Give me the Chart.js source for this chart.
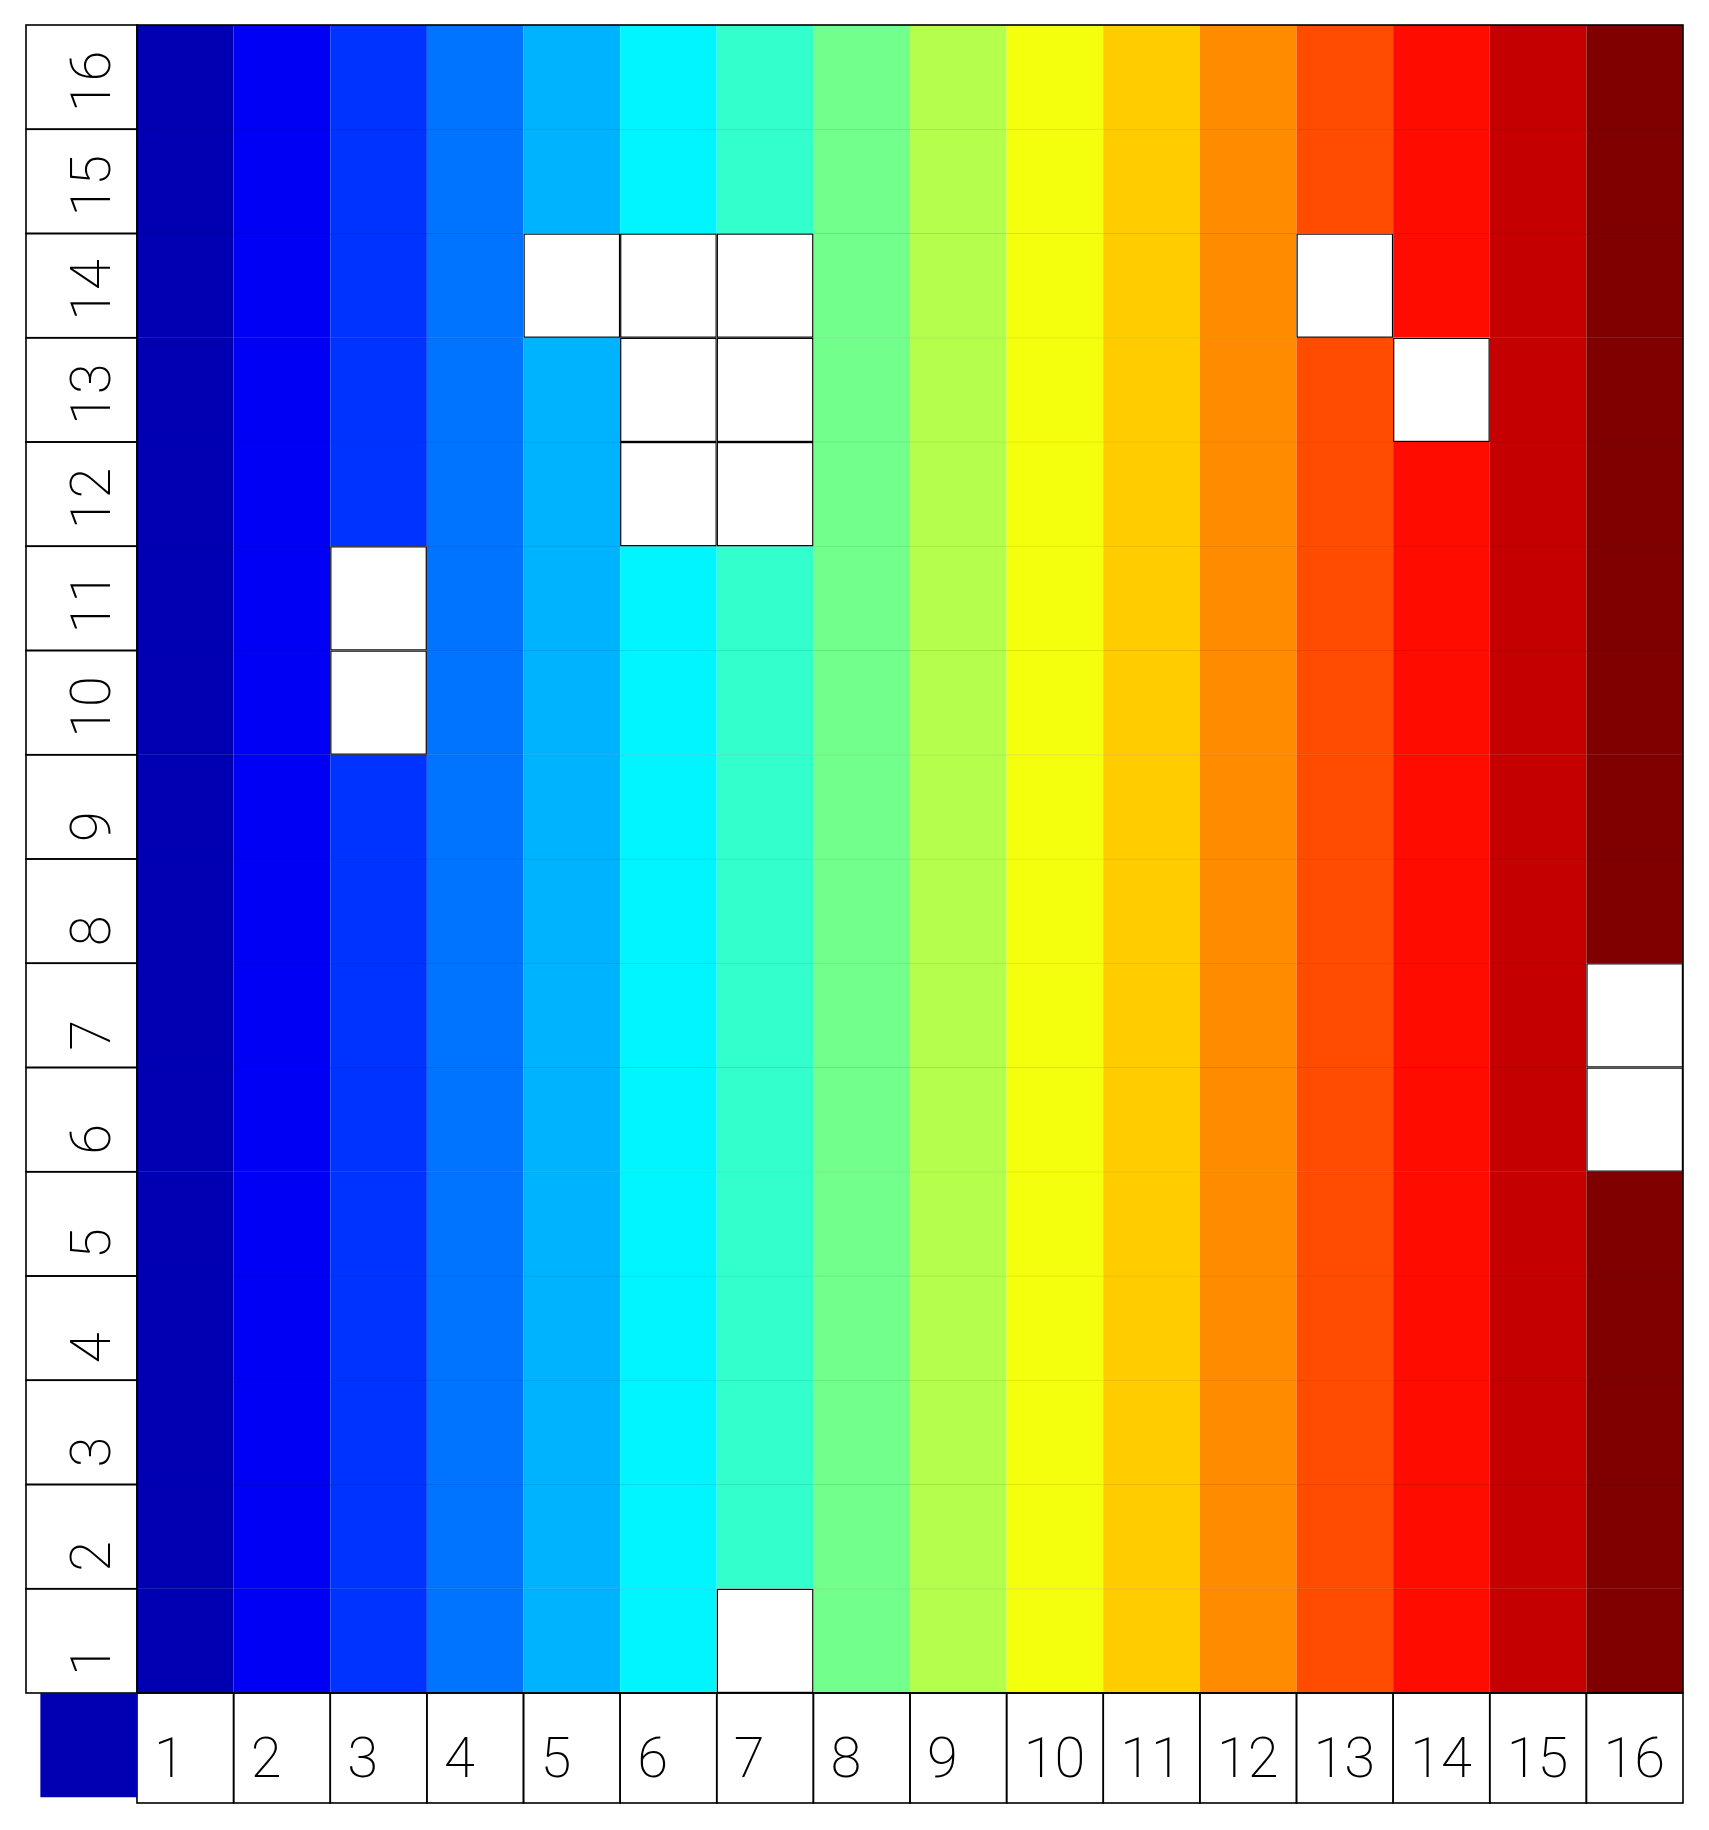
<!DOCTYPE html>
<html>
<head>
<meta charset="utf-8">
<script src="https://cdn.jsdelivr.net/npm/chart.js@4.4.1/dist/chart.umd.min.js"></script>
<style>
  html, body { margin: 0; padding: 0; background: #fff; }
  canvas { display: block; }
</style>
</head>
<body>
<canvas id="grid" width="1709" height="1830"></canvas>
<script>
// column / row labels
const colLabels = ['1','2','3','4','5','6','7','8','9','10','11','12','13','14','15','16'];
const rowLabels = ['1','2','3','4','5','6','7','8','9','10','11','12','13','14','15','16'];

// cell values, row 1 (bottom) first; null = empty cell
const cellValues = [
  [1,2,3,4,5,6,null,8,9,10,11,12,13,14,15,16],
  [1,2,3,4,5,6,7,8,9,10,11,12,13,14,15,16],
  [1,2,3,4,5,6,7,8,9,10,11,12,13,14,15,16],
  [1,2,3,4,5,6,7,8,9,10,11,12,13,14,15,16],
  [1,2,3,4,5,6,7,8,9,10,11,12,13,14,15,16],
  [1,2,3,4,5,6,7,8,9,10,11,12,13,14,15,null],
  [1,2,3,4,5,6,7,8,9,10,11,12,13,14,15,null],
  [1,2,3,4,5,6,7,8,9,10,11,12,13,14,15,16],
  [1,2,3,4,5,6,7,8,9,10,11,12,13,14,15,16],
  [1,2,null,4,5,6,7,8,9,10,11,12,13,14,15,16],
  [1,2,null,4,5,6,7,8,9,10,11,12,13,14,15,16],
  [1,2,3,4,5,null,null,8,9,10,11,12,13,14,15,16],
  [1,2,3,4,5,null,null,8,9,10,11,12,13,null,15,16],
  [1,2,3,4,null,null,null,8,9,10,11,12,null,14,15,16],
  [1,2,3,4,5,6,7,8,9,10,11,12,13,14,15,16],
  [1,2,3,4,5,6,7,8,9,10,11,12,13,14,15,16]
];

// jet-like colour per value 1..16
const jetColors = [
  '#0000b3','#0000f5','#0033ff','#0073ff','#00b3ff','#00f5ff','#33ffcc','#73ff8c',
  '#b3ff4c','#f3ff0c','#ffcc00','#ff8c00','#ff4c00','#ff0c00','#c40000','#800000'
];

const labelFont = '200 56px Roboto, "Liberation Sans", sans-serif';

function darken(hex, f) {
  const n = parseInt(hex.slice(1), 16);
  const r = Math.round(((n >> 16) & 255) * f);
  const g = Math.round(((n >> 8) & 255) * f);
  const b = Math.round((n & 255) * f);
  return 'rgb(' + r + ',' + g + ',' + b + ')';
}

const datasets = rowLabels.map((lab, ri) => {
  const row = cellValues[ri];
  return {
    label: 'row ' + lab,
    data: row.map(() => [ri, ri + 1]),
    backgroundColor: row.map(v => v == null ? '#ffffff' : jetColors[v - 1]),
    borderColor: row.map(v => v == null ? '#ffffff' : darken(jetColors[v - 1], 0.9)),
    borderWidth: row.map(v => v == null ? 0 : { top: 1, bottom: 0, left: 0, right: 0 }),
    inflateAmount: row.map(v => v == null ? 0 : 0.6),
    borderSkipped: false,
    barPercentage: 1,
    categoryPercentage: 1,
    grouped: false
  };
});

// outlines of the empty cells, on top of the bars
const emptyCellPlugin = {
  id: 'emptyCells',
  afterDatasetsDraw(chart) {
    const { ctx, chartArea: a, scales: { x, y } } = chart;
    const colW = (a.right - a.left) / colLabels.length;
    ctx.save();
    ctx.strokeStyle = '#000';
    ctx.lineWidth = 1.2;
    cellValues.forEach((row, i) => {
      row.forEach((v, j) => {
        if (v != null) return;
        const left = x.getPixelForValue(j) - colW / 2;
        const top = y.getPixelForValue(i + 1);
        const bot = y.getPixelForValue(i);
        ctx.fillStyle = '#fff';
        ctx.fillRect(left, top, colW, bot - top);
        ctx.strokeRect(left + 0.6, top + 0.6, colW - 1.2, bot - top - 1.2);
      });
    });
    ctx.restore();
  }
};

// label boxes, corner swatch and outer frame
const framePlugin = {
  id: 'frame',
  afterDraw(chart) {
    const { ctx, chartArea: a, scales: { x, y } } = chart;
    const colW = (a.right - a.left) / colLabels.length;
    const rowH = (a.bottom - a.top) / rowLabels.length;
    ctx.save();
    ctx.strokeStyle = '#000';
    ctx.lineWidth = 1.6;
    ctx.fillStyle = '#000';
    ctx.font = labelFont;
    ctx.textAlign = 'left';
    ctx.textBaseline = 'alphabetic';

    rowLabels.forEach((lab, i) => {
      const top = y.getPixelForValue(i + 1);
      const bot = y.getPixelForValue(i);
      ctx.strokeRect(y.left, top, a.left - y.left, bot - top);
      ctx.save();
      ctx.translate(a.left - 27, bot - 17);
      ctx.rotate(-Math.PI / 2);
      ctx.fillText(lab, 0, 0);
      ctx.restore();
    });

    colLabels.forEach((lab, j) => {
      const left = x.getPixelForValue(j) - colW / 2;
      ctx.strokeRect(left, a.bottom, colW, x.bottom - a.bottom);
      ctx.fillText(lab, left + 17, x.bottom - 26);
    });

    ctx.fillStyle = jetColors[0];
    ctx.fillRect(a.left - colW, a.bottom, colW, rowH);

    ctx.strokeRect(a.left, a.top, a.right - a.left, a.bottom - a.top);
    ctx.restore();
  }
};

new Chart(document.getElementById('grid').getContext('2d'), {
  type: 'bar',
  data: { labels: colLabels, datasets: datasets },
  options: {
    responsive: false,
    animation: false,
    devicePixelRatio: 1,
    layout: { padding: { left: 26, top: 25, right: 26, bottom: 27 } },
    plugins: { legend: { display: false }, tooltip: { enabled: false } },
    scales: {
      x: {
        type: 'category',
        offset: true,
        grid: { display: false },
        border: { display: false },
        ticks: { display: false },
        afterFit: s => { s.height = 110; }
      },
      y: {
        type: 'linear',
        min: 0,
        max: 16,
        grid: { display: false },
        border: { display: false },
        ticks: { display: false },
        afterFit: s => { s.width = 111; }
      }
    }
  },
  plugins: [emptyCellPlugin, framePlugin]
});
</script>
</body>
</html>
